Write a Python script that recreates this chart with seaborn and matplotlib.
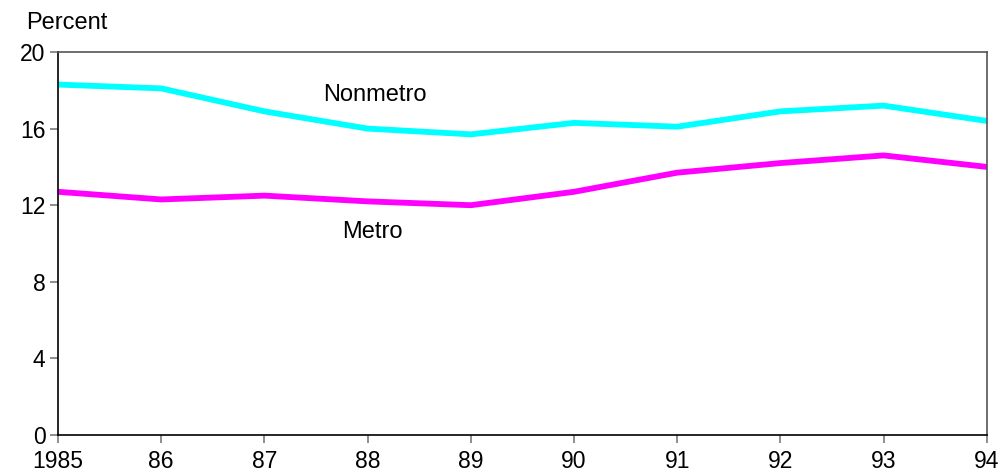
import numpy as np
import pandas as pd
import matplotlib
matplotlib.use("Agg")
import matplotlib.pyplot as plt
import seaborn as sns

years = [1985, 1986, 1987, 1988, 1989, 1990, 1991, 1992, 1993, 1994]
year_labels = ["1985", "86", "87", "88", "89", "90", "91", "92", "93", "94"]
nonmetro = [18.3, 18.1, 16.9, 16.0, 15.7, 16.3, 16.1, 16.9, 17.2, 16.4]
metro = [12.7, 12.3, 12.5, 12.2, 12.0, 12.7, 13.7, 14.2, 14.6, 14.0]

df = pd.DataFrame({
    "year": years * 2,
    "value": nonmetro + metro,
    "area": ["Nonmetro"] * len(years) + ["Metro"] * len(years),
})

sns.set_theme(style="white")
plt.rcParams["font.family"] = ["Liberation Sans", "DejaVu Sans"]

fig = plt.figure(figsize=(10.02, 4.72), dpi=100)
ax = fig.add_axes([0.0579, 0.0784, 0.927, 0.8114])

sns.lineplot(data=df, x="year", y="value", hue="area",
             palette={"Nonmetro": "#00FFFF", "Metro": "#FF00FF"},
             linewidth=4.2, legend=False, ax=ax)

ax.set_xlim(1985, 1994)
ax.set_ylim(0, 20)
ax.set_xticks(years)
ax.set_xticklabels(year_labels)
ax.set_yticks([0, 4, 8, 12, 16, 20])
ax.set_xlabel("")
ax.set_ylabel("")
ax.tick_params(axis="both", labelsize=16.5, labelcolor="black", color="#7a7a7a",
               length=6, width=1.2, direction="out", bottom=True, left=True)
ax.tick_params(axis="x", pad=4.5)
ax.tick_params(axis="y", pad=3)

for side in ["left", "bottom"]:
    ax.spines[side].set_color("black")
    ax.spines[side].set_linewidth(1.2)
for side in ["top", "right"]:
    ax.spines[side].set_color("#555555")
    ax.spines[side].set_linewidth(1.2)

ax.text(1987.57, 17.75, "Nonmetro", fontsize=17, color="black", ha="left", va="center")
ax.text(1987.75, 10.6, "Metro", fontsize=17, color="black", ha="left", va="center")
fig.text(26 / 1002, 1 - 23 / 472, "Percent", fontsize=17, color="black", ha="left", va="center")

fig.savefig("out.png", dpi=100)
